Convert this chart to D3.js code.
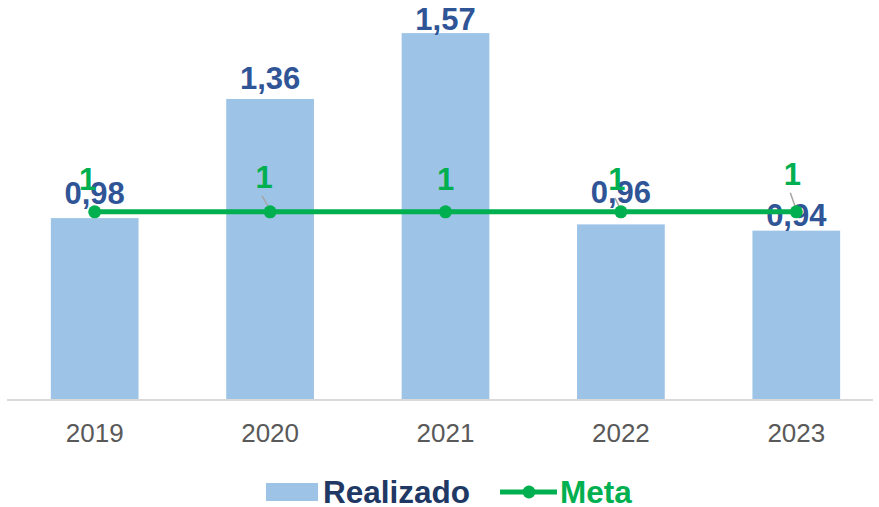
<!DOCTYPE html>
<html>
<head>
<meta charset="utf-8">
<script src="https://cdn.jsdelivr.net/npm/d3@7"></script>
<style>
  body { margin: 0; background: #fff; }
  text { font-family: "Liberation Sans", Arial, sans-serif; }
</style>
</head>
<body>
<div id="chart"></div>
<script>
const years = ['2019', '2020', '2021', '2022', '2023'];
const realizado = [0.98, 1.36, 1.57, 0.96, 0.94];
const meta = [1, 1, 1, 1, 1];

// manual label nudges (px), like the hand-placed labels in the original
const barLabelDy = [-14, -10, -3, -21, -5];
const metaLabelDx = [-7, -6, 0, -4, -4];
const metaLabelDy = [-22, -24, -22, -22, -27];

const w = 879;
const h = 507;
const fmt = (v) => String(v).replace('.', ',');

const svg = d3
  .select('#chart')
  .append('svg')
  .attr('width', w)
  .attr('height', h);

// SCALES ----------------------
const xScale = d3
  .scaleBand()
  .domain(years)
  .range([7, 884])
  .paddingInner(0.5)
  .paddingOuter(0.25);

const yScale = d3.scaleLinear().domain([0.4, 1.6]).range([400, 23.7]);

// BARS ------------------------
svg
  .selectAll('rect.bar')
  .data(realizado)
  .enter()
  .append('rect')
  .attr('class', 'bar')
  .attr('x', (d, i) => xScale(years[i]))
  .attr('y', (d) => yScale(d))
  .attr('width', xScale.bandwidth())
  .attr('height', (d) => yScale(0.4) - yScale(d))
  .attr('fill', '#9DC3E6');

// AXIS ------------------------
const gX = svg.append('g').attr('transform', `translate(0, ${yScale(0.4)})`);
gX.call(d3.axisBottom(xScale).tickSize(0).tickPadding(24));
gX.select('.domain').attr('stroke', '#D9D9D9').attr('stroke-width', 2).attr('d', 'M7,0H873');
gX.selectAll('text')
  .style('font-size', '26px')
  .style('font-family', '"Liberation Sans", Arial, sans-serif')
  .attr('fill', '#595959');

const cx = (i) => xScale(years[i]) + xScale.bandwidth() / 2;

// BAR LABELS ------------------
svg
  .selectAll('text.val')
  .data(realizado)
  .enter()
  .append('text')
  .attr('class', 'val')
  .attr('x', (d, i) => cx(i))
  .attr('y', (d, i) => yScale(d) + barLabelDy[i])
  .attr('text-anchor', 'middle')
  .attr('font-size', 31)
  .attr('font-weight', 'bold')
  .attr('fill', '#2F5597')
  .text(fmt);

// META LINE -------------------
const line = d3
  .line()
  .x((d, i) => cx(i))
  .y((d) => yScale(d));

svg
  .append('path')
  .datum(meta)
  .attr('d', line)
  .attr('fill', 'none')
  .attr('stroke', '#00B050')
  .attr('stroke-width', 5);

// leader lines
[1, 3, 4].forEach((i) => {
  const x0 = cx(i) + metaLabelDx[i];
  svg
    .append('line')
    .attr('x1', x0 - 2)
    .attr('y1', yScale(meta[i]) + metaLabelDy[i] + 8)
    .attr('x2', cx(i))
    .attr('y2', yScale(meta[i]) - 2)
    .attr('stroke', '#A6A6A6')
    .attr('stroke-width', 1.5);
});

svg
  .selectAll('circle.pt')
  .data(meta)
  .enter()
  .append('circle')
  .attr('class', 'pt')
  .attr('cx', (d, i) => cx(i))
  .attr('cy', (d) => yScale(d))
  .attr('r', 6.5)
  .attr('fill', '#00B050');

svg
  .selectAll('text.meta')
  .data(meta)
  .enter()
  .append('text')
  .attr('class', 'meta')
  .attr('x', (d, i) => cx(i) + metaLabelDx[i])
  .attr('y', (d, i) => yScale(d) + metaLabelDy[i])
  .attr('text-anchor', 'middle')
  .attr('font-size', 31)
  .attr('font-weight', 'bold')
  .attr('fill', '#00B050')
  .text(fmt);

// LEGEND ----------------------
const lg = svg.append('g').attr('transform', 'translate(0, 492)');
lg.append('rect').attr('x', 266).attr('y', -9).attr('width', 52).attr('height', 18).attr('fill', '#9DC3E6');
lg.append('text')
  .attr('x', 323).attr('y', 11)
  .attr('font-size', 31.5).attr('font-weight', 'bold')
  .attr('fill', '#203864')
  .text('Realizado');
lg.append('line')
  .attr('x1', 500).attr('x2', 557).attr('y1', 0).attr('y2', 0)
  .attr('stroke', '#00B050').attr('stroke-width', 5);
lg.append('circle').attr('cx', 529).attr('cy', 0).attr('r', 6.5).attr('fill', '#00B050');
lg.append('text')
  .attr('x', 560).attr('y', 11)
  .attr('font-size', 31.5).attr('font-weight', 'bold')
  .attr('fill', '#00B050')
  .text('Meta');
</script>
</body>
</html>
